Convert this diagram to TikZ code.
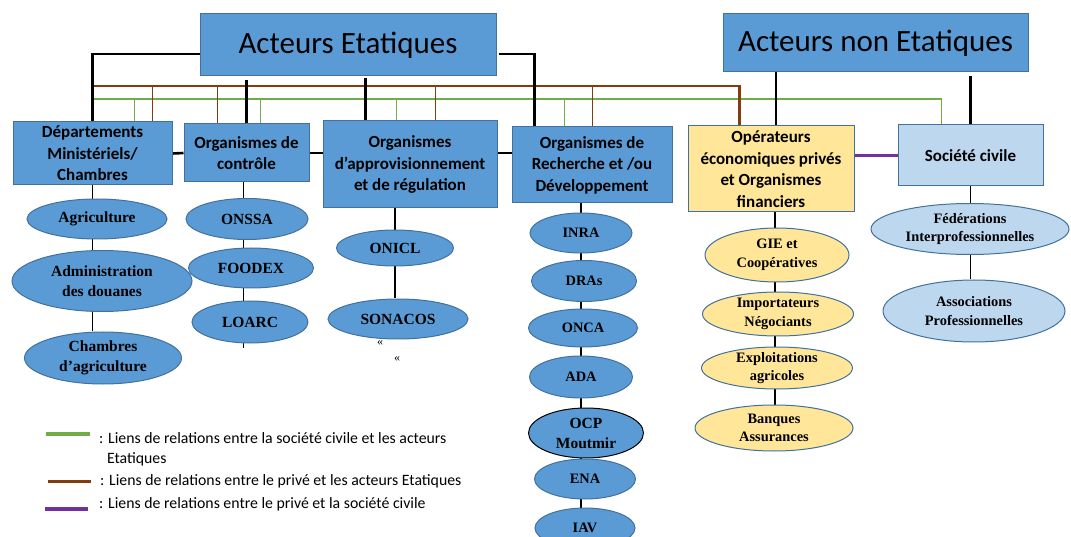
\documentclass[tikz,border=0pt]{standalone}
\usepackage{fontspec}
\setmainfont{Liberation Serif}
\newfontfamily\calib{Carlito}
\usetikzlibrary{positioning, shapes.geometric, calc, backgrounds}

\definecolor{offblue}{HTML}{5B9BD5}
\definecolor{offedge}{HTML}{41719C}
\definecolor{privfill}{HTML}{FFE699}
\definecolor{socfill}{HTML}{BDD7EE}
\definecolor{socgreen}{HTML}{70AD47}
\definecolor{privbrown}{HTML}{843C0C}
\definecolor{linkpurple}{HTML}{7030A0}

\begin{document}
\begin{tikzpicture}[x=1pt, y=-1pt,
  box/.style={draw=offedge, fill=offblue, line width=1pt, inner sep=0pt, align=center,
    font=\calib\bfseries\fontsize{17}{21.5}\selectfont},
  title/.style={box, font=\calib\fontsize{31}{36}\selectfont},
  org/.style={ellipse, draw=offedge, fill=offblue, line width=1pt, inner sep=-3pt, align=center,
    font=\bfseries\fontsize{15.5}{20}\selectfont},
  orgsmall/.style={org, font=\bfseries\fontsize{14.4}{18.5}\selectfont},
  statelink/.style={line width=2.6pt},
  chain/.style={line width=1.8pt},
  privlink/.style={privbrown, line width=1.4pt},
  soclink/.style={socgreen, line width=1.8pt},
  legend/.style={inner sep=0pt, align=left, font=\calib\fontsize{15.8}{20}\selectfont}]
  \useasboundingbox (0,0) rectangle (1071,537);

  % actors
  \node[title, minimum width=296, minimum height=62] (etat) at (348,45) {Acteurs Etatiques};
  \node[title, minimum width=305, minimum height=58] (nonetat) at (875.5,43) {Acteurs non Etatiques};

  \node[box, minimum width=159, minimum height=63] (dep) at (92.5,153.5) {Départements\\Ministériels/\\Chambres};
  \node[box, minimum width=125, minimum height=58] (ctrl) at (246.5,153) {Organismes de\\contrôle};
  \node[box, minimum width=174, minimum height=87] (appro) at (410,164.5) {Organismes\\d’approvisionnement\\et de régulation};
  \node[box, minimum width=160, minimum height=76] (rech) at (592,165) {Organismes de\\Recherche et /ou\\Développement};
  \node[box, fill=privfill, minimum width=166, minimum height=86] (oper) at (771,169) {Opérateurs\\économiques privés\\et Organismes\\financiers};
  \node[box, fill=socfill, minimum width=145, minimum height=61] (soc) at (970.5,155.5) {Société civile};

  % members
  \node[org, minimum width=140, minimum height=40] (agri) at (97,219) {Agriculture};
  \node[org, minimum width=180, minimum height=61] (doua) at (102,281) {Administration\\des douanes};
  \node[org, minimum width=157, minimum height=52] (cham) at (103,358) {Chambres\\d’agriculture};

  \node[org, minimum width=122, minimum height=41] (onssa) at (247,219) {ONSSA};
  \node[org, minimum width=125, minimum height=40] (foodex) at (251,268) {FOODEX};
  \node[org, minimum width=116, minimum height=42] (loarc) at (250,322) {LOARC};

  \node[org, minimum width=117, minimum height=36] (onicl) at (395,248) {ONICL};
  \node[org, minimum width=140, minimum height=40] (sonacos) at (398,319) {SONACOS};
  \node[font=\fontsize{12}{12}\selectfont, inner sep=0pt] (quote1) at (380,343) {«};
  \node[font=\fontsize{12}{12}\selectfont, inner sep=0pt] (quote2) at (397,359) {«};

  \node[orgsmall, minimum width=102, minimum height=40] (inra) at (581,233) {INRA};
  \node[orgsmall, minimum width=105, minimum height=41] (dras) at (584,281) {DRAs};
  \node[orgsmall, minimum width=109, minimum height=38] (onca) at (583,328) {ONCA};
  \node[orgsmall, minimum width=103, minimum height=42] (ada) at (581,377) {ADA};
  \node[org, draw=black, minimum width=115, minimum height=50] (ocp) at (586,433) {OCP\\Moutmir};
  \node[orgsmall, minimum width=101, minimum height=40] (ena) at (585,479) {ENA};
  \node[orgsmall, minimum width=100, minimum height=40] (iav) at (585,528) {IAV};

  \node[orgsmall, fill=privfill, minimum width=144, minimum height=54] (gie) at (777,255) {GIE et\\Coopératives};
  \node[orgsmall, fill=privfill, minimum width=151, minimum height=44] (impo) at (778,314) {Importateurs\\Négociants};
  \node[orgsmall, fill=privfill, minimum width=151, minimum height=42] (expl) at (777,368) {Exploitations\\agricoles};
  \node[orgsmall, fill=privfill, minimum width=158, minimum height=46] (banq) at (774,428) {Banques\\Assurances};

  \node[orgsmall, fill=socfill, minimum width=198, minimum height=51] (fede) at (970,229) {Fédérations\\Interprofessionnelles};
  \node[orgsmall, fill=socfill, minimum width=182, minimum height=62] (asso) at (974,311) {Associations\\Professionnelles};

  \coordinate (greenbus) at (92,99);
  \coordinate (brownbus) at (92,86);

  \begin{scope}[on background layer]
    % civil society links
    \draw[soclink] (greenbus) -| ($(soc.north west)+(44,0)$);
    \foreach \n/\dx in {dep/122, ctrl/77, appro/74, rech/53}
      \draw[soclink] ($(\n.north west |- greenbus)+(\dx,0)$) -- ($(\n.north west)+(\dx,0)$);
    % private links
    \draw[privlink, line width=2.6pt] (brownbus) -| ($(oper.north west)+(52,0)$);
    \foreach \n/\dx in {dep/140, ctrl/34, appro/113, rech/81}
      \draw[privlink] ($(\n.north west |- brownbus)+(\dx,0)$) -- ($(\n.north west)+(\dx,0)$);
    % state links
    \draw[statelink] ($(etat.west)+(0,9)$) -| (dep.north);
    \draw[statelink] ($(etat.east)+(2,9)$) -| ($(rech.north west)+(23,0)$);
    \draw[statelink] ($(etat.south -| ctrl.north)+(0,4)$) -- (ctrl.north);
    \draw[statelink] ($(appro.north west |- etat.south)+(43,2)$) -- ($(appro.north west)+(43,0)$);
    \draw[statelink] (dep.east) -- (ctrl.west);
    \draw[statelink] (ctrl.east) -- (ctrl.east -| appro.west);
    \draw[statelink] (ctrl.east -| appro.east) -- (ctrl.east -| rech.west);
    \draw[statelink] ($(nonetat.south -| oper.north)+(5,0)$) -- ($(oper.north)+(5,0)$);
    \draw[statelink] ($(nonetat.south -| soc.north)+(0,4)$) -- (soc.north);
    \draw[linkpurple, line width=3pt] (soc.west -| oper.east) -- (soc.west);
    % member chains
    \draw[chain] (dep.south) -- (dep.south |- cham.north);
    \draw[chain] ($(ctrl.south)+(-3,0)$) -- ($(ctrl.south |- loarc.south)+(-3,4)$);
    \draw[chain] (onicl |- appro.south) -- (onicl |- sonacos.north);
    \draw[chain] (inra |- rech.south) -- (inra |- iav.north);
    \draw[chain] ($(oper.south)+(4,0)$) -- ($(oper.south |- banq.north)+(4,0)$);
    \draw[chain] (soc.south) -- (soc.south |- asso.north);
  \end{scope}

  % legend
  \node[legend, anchor=west] (leg1) at (99,449) {: Liens de relations entre la société civile et les acteurs\\\phantom{:}\ Etatiques};
  \node[legend, anchor=west] (leg2) at (100,481) {: Liens de relations entre le privé et les acteurs Etatiques};
  \node[legend, anchor=west] (leg3) at (99,504) {: Liens de relations entre le privé et la société civile};
  \draw[socgreen, line width=3.2pt] (46,434) -- (90,434);
  \draw[privbrown, line width=3pt] (48,481) -- (91,481);
  \draw[linkpurple, line width=3.2pt] (45,509) -- (88,509);
\end{tikzpicture}
\end{document}
